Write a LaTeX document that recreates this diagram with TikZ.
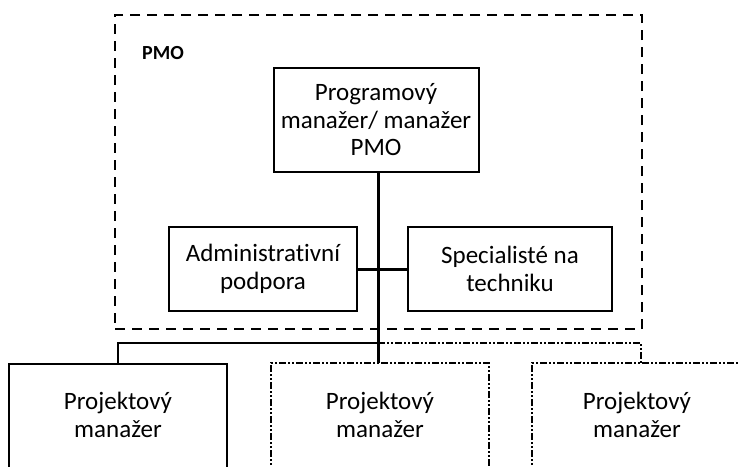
\documentclass[tikz,border=0pt]{standalone}
\usepackage{fontspec}
\setmainfont{Carlito}[Ligatures=NoCommon]
\begin{document}
\begin{tikzpicture}[x=1pt,y=-1pt,
  box/.style={draw=black, line width=2pt, align=center, inner sep=0pt,
    font=\fontsize{25}{27.5}\selectfont},
  pmbox/.style={draw=black, line width=2pt, inner sep=0pt, minimum height=160, anchor=north},
  dashdot/.style={line width=2pt, dash pattern=on 7pt off 2pt on 2pt off 2pt on 2pt off 2pt},
  pmtext/.style={align=center, inner sep=0pt, font=\fontsize{25}{27.5}\selectfont},
  link/.style={line width=3pt},
]
\useasboundingbox (0,0) rectangle (739,466);
\clip (0,0) rectangle (739,466);

% PMO frame
\node (pmo) [draw=black, line width=2.8pt, dash pattern=on 10pt off 7pt,
  minimum width=527, minimum height=314, inner sep=0pt] at (378.5,172) {};
\node (pmolabel) [font=\fontsize{20}{24}\selectfont\bfseries, inner sep=0pt, anchor=west] at (142,53) {PMO};

% PMO staff
\node (prog) [box, minimum width=205, minimum height=104] at (376,120)
  {Programový\\manažer/ manažer\\PMO};
\node (admin) [box, minimum width=188, minimum height=84] at (263,269)
  {Administrativní\\podpora};
\node (spec) [box, minimum width=204, minimum height=84] at (510,269)
  {Specialisté na\\techniku};

% project managers
\node (pm1) [pmbox, minimum width=218] at (118,363) {};
\node (pm2) [pmbox, minimum width=216, draw=none] at (380,363) {};
\node (pm3) [pmbox, minimum width=216, draw=none] at (641,363) {};
\draw[dashdot] (pm2.south west) -- (pm2.north west) -- (pm2.north east) -- (pm2.south east);
\draw[dashdot] (pm3.south west) -- (pm3.north west) -- (pm3.north east);
\node (pm1t) [pmtext] at (118,415) {Projektový\\manažer};
\node (pm2t) [pmtext] at (380,415) {Projektový\\manažer};
\node (pm3t) [pmtext] at (637,415) {Projektový\\manažer};

% connectors
\coordinate (j) at (378,343);
\coordinate (jr) at (641,343);
\draw[link] (prog.south -| j) -- (j |- pm2.north);
\draw[link] (admin.east) -- (spec.west);
\draw[line width=2pt] (j) -- (j -| pm1.north) -- (pm1.north);
\draw[dashdot] (j) -- (jr) -- (pm3.north);
\end{tikzpicture}
\end{document}
